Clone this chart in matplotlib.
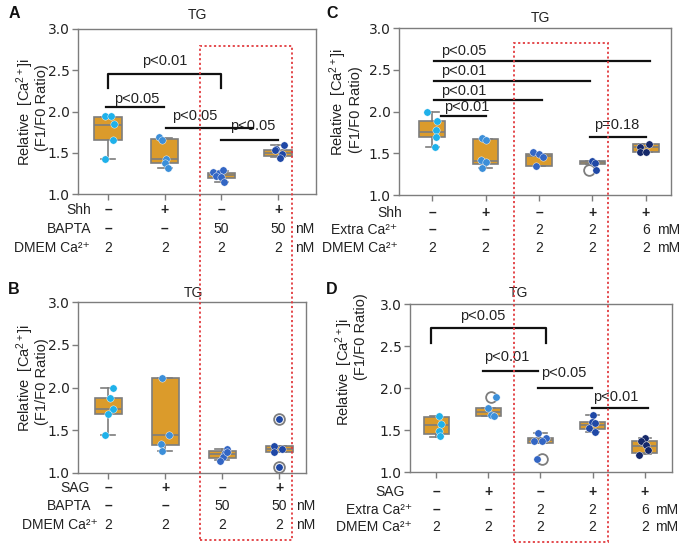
import matplotlib
matplotlib.use("Agg")
import matplotlib.pyplot as plt
from matplotlib.patches import Rectangle
from matplotlib.transforms import blended_transform_factory

plt.rcParams['font.family'] = ['Liberation Sans', 'DejaVu Sans']
plt.rcParams['mathtext.fontset'] = 'custom'
plt.rcParams['mathtext.rm'] = 'Liberation Sans'
plt.rcParams['mathtext.default'] = 'regular'

BOX = '#DB9B2B'
EDGE = '#7d7d7d'
DOTS = ['#1FB1EA', '#3C8FD9', '#3366C4', '#1F48A6', '#16296B']

# ---- panel A : Shh / BAPTA ----
a_q1 = [1.66, 1.37, 1.19, 1.46]
a_med = [1.84, 1.42, 1.23, 1.50]
a_q3 = [1.93, 1.67, 1.26, 1.53]
a_lo = [1.42, 1.31, 1.14, 1.45]
a_hi = [1.93, 1.68, 1.28, 1.60]
a_pts = [[1.94, 1.94, 1.85, 1.66, 1.42],
         [1.69, 1.66, 1.42, 1.37, 1.31],
         [1.27, 1.25, 1.29, 1.22, 1.21, 1.15],
         [1.54, 1.60, 1.49, 1.44, 1.53]]
a_off = [[-0.06, 0.06, 0.10, 0.09, -0.06],
         [-0.10, -0.04, 0.02, 0.00, 0.06],
         [-0.15, -0.04, 0.02, -0.10, -0.01, 0.05],
         [-0.03, 0.10, 0.07, 0.03, -0.06]]
a_fl = [[], [], [], []]
a_fl_off = [[], [], [], []]

# ---- panel C : Shh / extra Ca ----
c_q1 = [1.70, 1.37, 1.35, 1.37, 1.51]
c_med = [1.76, 1.41, 1.47, 1.39, 1.57]
c_q3 = [1.89, 1.67, 1.49, 1.41, 1.61]
c_lo = [1.57, 1.32, 1.35, 1.37, 1.51]
c_hi = [1.99, 1.67, 1.49, 1.41, 1.61]
c_pts = [[1.99, 1.89, 1.78, 1.70, 1.57],
         [1.68, 1.66, 1.42, 1.39, 1.32],
         [1.51, 1.49, 1.46, 1.35],
         [1.41, 1.38, 1.30],
         [1.58, 1.61, 1.51, 1.51]]
c_off = [[-0.09, 0.09, 0.08, 0.07, 0.05],
         [-0.07, 0.00, -0.09, 0.00, -0.07],
         [-0.11, 0.00, 0.07, -0.06],
         [-0.01, 0.05, 0.06],
         [-0.11, 0.05, -0.11, 0.01]]
c_fl = [[], [], [], [1.30], []]
c_fl_off = [[], [], [], [-0.06], []]

# ---- panel B : SAG / BAPTA ----
b_q1 = [1.69, 1.33, 1.18, 1.24]
b_med = [1.75, 1.44, 1.22, 1.28]
b_q3 = [1.88, 2.11, 1.26, 1.32]
b_lo = [1.44, 1.26, 1.15, 1.24]
b_hi = [1.99, 2.11, 1.28, 1.32]
b_pts = [[1.99, 1.88, 1.75, 1.69, 1.44],
         [2.11, 1.44, 1.34, 1.26],
         [1.28, 1.23, 1.19, 1.14, 1.25],
         [1.32, 1.24, 1.28, 1.63, 1.07]]
b_off = [[0.08, 0.03, 0.08, 0.00, -0.05],
         [-0.06, 0.07, -0.07, -0.05],
         [0.08, 0.05, 0.02, -0.04, 0.08],
         [-0.10, -0.09, 0.05, 0.00, -0.01]]
b_fl = [[], [], [], [1.63, 1.07]]
b_fl_off = [[], [], [], [0.0, -0.01]]

# ---- panel D : SAG / extra Ca ----
d_q1 = [1.45, 1.67, 1.34, 1.51, 1.23]
d_med = [1.56, 1.71, 1.38, 1.56, 1.31]
d_q3 = [1.65, 1.76, 1.41, 1.59, 1.37]
d_lo = [1.42, 1.67, 1.34, 1.48, 1.21]
d_hi = [1.67, 1.76, 1.47, 1.68, 1.40]
d_pts = [[1.67, 1.57, 1.49, 1.43],
         [1.89, 1.76, 1.68, 1.67],
         [1.47, 1.40, 1.37, 1.37, 1.16],
         [1.68, 1.59, 1.58, 1.52, 1.48],
         [1.40, 1.37, 1.32, 1.26, 1.20]]
d_off = [[0.06, 0.10, 0.06, 0.08],
         [0.15, -0.01, 0.05, 0.10],
         [-0.04, 0.10, 0.02, -0.12, -0.06],
         [0.01, -0.02, 0.04, -0.07, 0.05],
         [0.00, -0.08, 0.02, 0.06, -0.12]]
d_fl = [[], [1.89], [1.16], [], []]
d_fl_off = [[], [0.06], [0.03], [], []]

# significance bars: x1, x2, y, bracket drop, text x, text y, label
a_sig_x1 = [0.0, -0.03, 1.03, 1.99]
a_sig_x2 = [2.0, 0.99, 2.56, 3.0]
a_sig_y = [2.46, 2.05, 1.80, 1.65]
a_sig_drop = [0.18, 0, 0, 0]
a_sig_tx = [1.0, 0.5, 1.53, 2.56]
a_sig_ty = [2.61, 2.15, 1.94, 1.82]
a_sig_lab = ['p<0.01', 'p<0.05', 'p<0.05', 'p<0.05']

c_sig_x1 = [0.04, 0.04, 0.04, 0.16, 2.96]
c_sig_x2 = [4.08, 2.95, 2.05, 1.0, 4.0]
c_sig_y = [2.61, 2.37, 2.14, 1.95, 1.69]
c_sig_drop = [0, 0, 0, 0, 0]
c_sig_tx = [0.6, 0.6, 0.6, 0.64, 3.46]
c_sig_ty = [2.72, 2.48, 2.25, 2.05, 1.84]
c_sig_lab = ['p<0.05', 'p<0.01', 'p<0.01', 'p<0.01', 'p=0.18']

d_sig_x1 = [-0.1, 0.9, 1.96, 2.99]
d_sig_x2 = [2.1, 1.96, 2.99, 4.06]
d_sig_y = [2.71, 2.20, 2.00, 1.76]
d_sig_drop = [0.17, 0, 0, 0]
d_sig_tx = [0.9, 1.35, 2.45, 3.45]
d_sig_ty = [2.86, 2.37, 2.18, 1.89]
d_sig_lab = ['p<0.05', 'p<0.01', 'p<0.05', 'p<0.01']

# condition tables
a_rows = ['Shh', 'BAPTA', 'DMEM Ca²⁺']
a_vals = [['–', '+', '–', '+'], ['–', '–', '50', '50'], ['2', '2', '2', '2']]
a_unit = ['', 'nM', 'nM']
b_rows = ['SAG', 'BAPTA', 'DMEM Ca²⁺']
b_vals = [['–', '+', '–', '+'], ['–', '–', '50', '50'], ['2', '2', '2', '2']]
b_unit = ['', 'nM', 'nM']
c_rows = ['Shh', 'Extra Ca²⁺', 'DMEM Ca²⁺']
c_vals = [['–', '+', '–', '+', '+'], ['–', '–', '2', '2', '6'], ['2', '2', '2', '2', '2']]
c_unit = ['', 'mM', 'mM']
d_rows = ['SAG', 'Extra Ca²⁺', 'DMEM Ca²⁺']
d_vals = [['–', '+', '–', '+', '+'], ['–', '–', '2', '2', '6'], ['2', '2', '2', '2', '2']]
d_unit = ['', 'mM', 'mM']

W, H = 685, 545
fig = plt.figure(figsize=(W / 100, H / 100), dpi=100)


def px_axes(l, t, r, b):
    return fig.add_axes([l / W, 1 - b / H, (r - l) / W, (b - t) / H])


def draw_panel(ax, q1, med, q3, lo, hi, pts, offs, fl, fl_off, xlim):
    n = len(q1)
    stats = [dict(q1=q1[i], med=med[i], q3=q3[i], whislo=lo[i], whishi=hi[i], fliers=[])
             for i in range(n)]
    ax.bxp(stats, positions=list(range(n)), widths=0.48, patch_artist=True, showfliers=False,
           boxprops=dict(facecolor=BOX, edgecolor=EDGE, linewidth=1.2),
           medianprops=dict(color=EDGE, linewidth=1.2),
           whiskerprops=dict(color=EDGE, linewidth=1.2),
           capprops=dict(color=EDGE, linewidth=1.2))
    for i in range(n):
        if fl[i]:
            ax.scatter([i + o for o in fl_off[i]], fl[i], s=60, facecolor='white',
                       edgecolor=EDGE, linewidth=1.3, zorder=3)
        ax.scatter([i + o for o in offs[i]], pts[i], s=28, color=DOTS[i],
                   edgecolor='white', linewidth=0.3, zorder=4)
    ax.set_xlim(xlim)
    ax.set_ylim(1.0, 3.0)
    ax.set_xticks(list(range(n)))
    ax.set_xticklabels([])
    ax.set_yticks([1.0, 1.5, 2.0, 2.5, 3.0])
    ax.set_yticklabels(['1.0', '1.5', '2.0', '2.5', '3.0'], fontfamily='DejaVu Sans', fontsize=10)
    ax.tick_params(color=EDGE, labelcolor='#222222', length=4, width=1, pad=2)
    for sp in ax.spines.values():
        sp.set_color(EDGE)
        sp.set_linewidth(1.0)


def draw_sig(ax, x1, x2, y, drop, tx, ty, lab):
    for i in range(len(x1)):
        if drop[i] > 0:
            ax.plot([x1[i], x1[i], x2[i], x2[i]], [y[i] - drop[i], y[i], y[i], y[i] - drop[i]],
                    color='#111111', lw=1.6, zorder=5)
        else:
            ax.plot([x1[i], x2[i]], [y[i], y[i]], color='#111111', lw=1.6, zorder=5)
        ax.text(tx[i], ty[i], lab[i], ha='center', va='center', fontsize=10.5, color='#222222')


def draw_table(ax, rows, vals, unit, row_y, row_x, unit_x):
    tr = blended_transform_factory(ax.transData, ax.transAxes)
    for r in range(len(rows)):
        ax.text(row_x[r], row_y[r], rows[r], transform=tr, ha='right', va='center',
                fontsize=10, color='#222222')
        for i, v in enumerate(vals[r]):
            bold = v in ('+', '–')
            ax.text(i, row_y[r], v, transform=tr, ha='center', va='center', fontsize=10,
                    fontweight='bold' if bold else 'normal', color='#222222')
        if unit[r]:
            ax.text(unit_x, row_y[r], unit[r], transform=tr, ha='left', va='center',
                    fontsize=10, color='#222222')


ylab1 = 'Relative  [Ca$^{2+}$]i'
ylab2 = '(F1/F0 Ratio)'

axA = px_axes(78, 29, 316, 194)
draw_panel(axA, a_q1, a_med, a_q3, a_lo, a_hi, a_pts, a_off, a_fl, a_fl_off, (-0.53, 3.67))
draw_sig(axA, a_sig_x1, a_sig_x2, a_sig_y, a_sig_drop, a_sig_tx, a_sig_ty, a_sig_lab)
draw_table(axA, a_rows, a_vals, a_unit, [-0.097, -0.212, -0.327], [-0.30, -0.30, -0.32], 3.3)

axC = px_axes(399, 28, 671, 195)
draw_panel(axC, c_q1, c_med, c_q3, c_lo, c_hi, c_pts, c_off, c_fl, c_fl_off, (-0.62, 4.47))
draw_sig(axC, c_sig_x1, c_sig_x2, c_sig_y, c_sig_drop, c_sig_tx, c_sig_ty, c_sig_lab)
draw_table(axC, c_rows, c_vals, c_unit, [-0.108, -0.21, -0.317], [-0.56, -0.65, -0.65], 4.21)

axB = px_axes(78, 302, 306, 473)
draw_panel(axB, b_q1, b_med, b_q3, b_lo, b_hi, b_pts, b_off, b_fl, b_fl_off, (-0.53, 3.47))
draw_table(axB, b_rows, b_vals, b_unit, [-0.088, -0.193, -0.304], [-0.33, -0.30, -0.19], 3.3)

axD = px_axes(410, 304, 672, 472)
draw_panel(axD, d_q1, d_med, d_q3, d_lo, d_hi, d_pts, d_off, d_fl, d_fl_off, (-0.5, 4.52))
draw_sig(axD, d_sig_x1, d_sig_x2, d_sig_y, d_sig_drop, d_sig_tx, d_sig_ty, d_sig_lab)
draw_table(axD, d_rows, d_vals, d_unit, [-0.119, -0.226, -0.327], [-0.61, -0.46, -0.46], 4.19)

# y labels, titles and panel letters (figure pixel positions)
for (x1, y1, x2, y2) in [(25, 112, 42, 108), (338, 102, 356, 110),
                         (25, 378, 42, 382), (344, 372, 361, 337)]:
    fig.text(x1 / W, 1 - y1 / H, ylab1, rotation=90, ha='center', va='center',
             fontsize=10.5, color='#222222')
    fig.text(x2 / W, 1 - y2 / H, ylab2, rotation=90, ha='center', va='center',
             fontsize=10.5, color='#222222')

for (x, y) in [(197, 15), (540, 18), (193, 293), (518, 293)]:
    fig.text(x / W, 1 - y / H, 'TG', ha='center', va='center', fontsize=10, color='#222222')

for lab, (x, y) in zip('ACBD', [(14, 14), (332, 14), (14, 289), (332, 289)]):
    fig.text(x / W, 1 - y / H, lab, ha='center', va='center', fontsize=11.5,
             fontweight='bold', color='#111111')

# red dotted highlight boxes
for (l, t, r, b) in [(200, 46, 292, 540), (514, 43, 608, 542)]:
    fig.add_artist(Rectangle((l / W, 1 - b / H), (r - l) / W, (b - t) / H,
                             transform=fig.transFigure, fill=False, edgecolor='#E23B3F',
                             linestyle=(0, (1.2, 1.4)), linewidth=1.3, zorder=10))

fig.savefig('out.png', dpi=100)
